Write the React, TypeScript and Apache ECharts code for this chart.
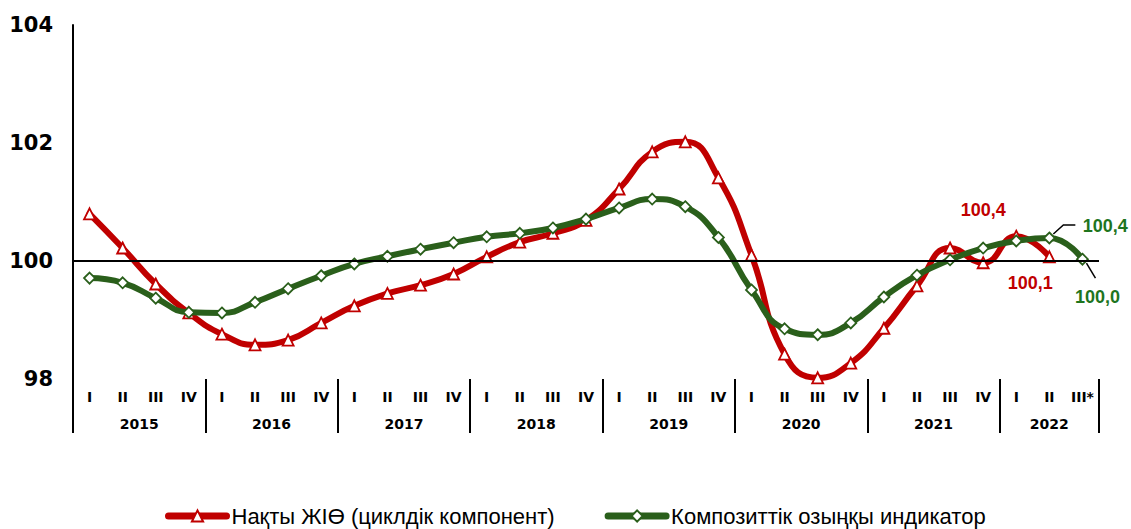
import React, { useEffect, useRef } from 'react';
import * as echarts from 'echarts';

const quarters = ['I', 'II', 'III', 'IV', 'I', 'II', 'III', 'IV', 'I', 'II', 'III', 'IV', 'I', 'II', 'III', 'IV',
  'I', 'II', 'III', 'IV', 'I', 'II', 'III', 'IV', 'I', 'II', 'III', 'IV', 'I', 'II', 'III*'];
const years = ['2015', '2016', '2017', '2018', '2019', '2020', '2021', '2022'];
const quartersPerYear = [4, 4, 4, 4, 4, 4, 4, 3];

const gdpCycle = [
  100.80, 100.22, 99.61, 99.12,
  98.76, 98.58, 98.66, 98.95,
  99.24, 99.45, 99.59, 99.78,
  100.07, 100.32, 100.47, 100.69,
  101.22, 101.85, 102.02, 101.41,
  100.10, 98.42, 98.02, 98.27,
  98.86, 99.58, 100.22, 99.97,
  100.42, 100.07,
];
const compositeIndicator = [
  99.71, 99.63, 99.37, 99.13,
  99.12, 99.30, 99.53, 99.75,
  99.95, 100.08, 100.20, 100.31,
  100.41, 100.47, 100.56, 100.71,
  100.90, 101.05, 100.92, 100.40,
  99.51, 98.85, 98.75, 98.95,
  99.39, 99.76, 100.02, 100.22,
  100.34, 100.39, 100.03,
];
const yTicks = [98, 100, 102, 104];
const baseline = 100;

const gdpName = 'Нақты ЖІӨ (циклдік компонент)';
const compName = 'Композиттік озыңқы индикатор';

const RED = '#C00000';
const GREEN = '#2A5F1B';
const GREEN_TEXT = '#1E751E';

const fmt = (v: number) => v.toFixed(1).replace('.', ',');

export default function App() {
  const ref = useRef<HTMLDivElement>(null);
  useEffect(() => {
    if (!ref.current) return;
    const chart = echarts.init(ref.current, null, { renderer: 'svg' });

    const halfSlots = quarters.length * 2 + 1;
    const yearSlots: string[] = new Array(halfSlots).fill('');
    const boundaries = new Set<number>();
    let cum = 0;
    years.forEach((y, i) => {
      boundaries.add(cum * 2);
      yearSlots[cum * 2 + quartersPerYear[i]] = y;
      cum += quartersPerYear[i];
    });
    boundaries.add(cum * 2);

    const redLabels: Record<number, number[]> = { 28: [-33, -26], 29: [-19, 26] };
    const greenLabels: Record<number, number[]> = { 29: [56, -12], 30: [15, 38] };
    const labelFont = { fontSize: 18, fontWeight: 'bold', fontFamily: 'Liberation Sans, sans-serif' };

    const redData = gdpCycle.map((v, i) => redLabels[i] ? {
      value: v,
      label: { show: true, position: 'inside', offset: redLabels[i], formatter: fmt(v), color: RED, ...labelFont },
    } : v);
    const greenData = compositeIndicator.map((v, i) => greenLabels[i] ? {
      value: v,
      label: { show: true, position: 'inside', offset: greenLabels[i], formatter: fmt(v), color: GREEN_TEXT, ...labelFont },
    } : v);

    chart.setOption({
      animation: false,
      grid: { left: 73, right: 32, top: 25, bottom: 150, containLabel: false },
      legend: {
        data: [gdpName, compName],
        left: 160,
        top: 500,
        itemWidth: 58,
        itemHeight: 14,
        itemGap: 50,
        lineStyle: { width: 7, cap: 'round' },
        textStyle: { fontSize: 22, lineHeight: 22, color: '#000', fontFamily: 'Liberation Sans, sans-serif' },
      },
      xAxis: [
        {
          type: 'category',
          data: quarters,
          boundaryGap: true,
          axisLine: { show: false },
          axisTick: { show: false },
          axisLabel: { interval: 0, margin: 11, fontSize: 14, fontWeight: 'bold', color: '#000', fontFamily: 'DejaVu Sans' },
        },
        {
          type: 'category',
          data: yearSlots,
          boundaryGap: false,
          position: 'bottom',
          axisLine: { show: false },
          axisTick: {
            show: true,
            length: 54,
            interval: (idx: number) => boundaries.has(idx),
            lineStyle: { color: '#000', width: 2 },
          },
          axisLabel: { interval: 0, margin: 38, fontSize: 14, fontWeight: 'bold', color: '#000', fontFamily: 'DejaVu Sans' },
        },
      ],
      yAxis: {
        type: 'value',
        min: yTicks[0],
        max: yTicks[yTicks.length - 1],
        interval: yTicks[1] - yTicks[0],
        axisLine: { show: true, lineStyle: { color: '#000', width: 2 } },
        axisTick: { show: false },
        splitLine: { show: false },
        axisLabel: { margin: 20, fontSize: 21, fontWeight: 'bold', color: '#000', fontFamily: 'DejaVu Sans' },
      },
      series: [
        {
          name: 'baseline',
          type: 'line',
          data: [],
          z: 1,
          markLine: {
            silent: true,
            symbol: ['none', 'none'],
            label: { show: false },
            lineStyle: { color: '#000', width: 2, type: 'solid' },
            data: [{ yAxis: baseline }],
          },
        },
        {
          name: gdpName,
          type: 'line',
          data: redData,
          smooth: 0.5,
          clip: false,
          z: 3,
          lineStyle: { color: RED, width: 6, cap: 'round' },
          itemStyle: { color: '#fff', borderColor: RED, borderWidth: 1.8 },
          symbol: 'triangle',
          symbolSize: 11,
          showAllSymbol: true,
        },
        {
          name: compName,
          type: 'line',
          data: greenData,
          smooth: 0.5,
          clip: false,
          z: 4,
          lineStyle: { color: GREEN, width: 6, cap: 'round' },
          itemStyle: { color: '#fff', borderColor: GREEN, borderWidth: 1.8 },
          symbol: 'diamond',
          symbolSize: 11,
          showAllSymbol: true,
        },
      ],
    });

    const p2 = chart.convertToPixel({ xAxisIndex: 0, yAxisIndex: 0 }, [29, compositeIndicator[29]]) as number[];
    const p3 = chart.convertToPixel({ xAxisIndex: 0, yAxisIndex: 0 }, [30, compositeIndicator[30]]) as number[];
    chart.setOption({
      graphic: [
        {
          type: 'polyline',
          z: 10,
          shape: { points: [[p2[0] + 4, p2[1] - 4], [p2[0] + 14, p2[1] - 13], [p2[0] + 26, p2[1] - 13]] },
          style: { stroke: '#000', lineWidth: 1.5, fill: 'none' },
        },
        {
          type: 'polyline',
          z: 10,
          shape: { points: [[p3[0] + 4, p3[1] + 4], [p3[0] + 13, p3[1] + 19]] },
          style: { stroke: '#000', lineWidth: 1.5, fill: 'none' },
        },
      ],
    });

    return () => chart.dispose();
  }, []);

  return <div ref={ref} style={{ position: 'absolute', left: 0, top: 0, width: 1131, height: 529 }} />;
}
